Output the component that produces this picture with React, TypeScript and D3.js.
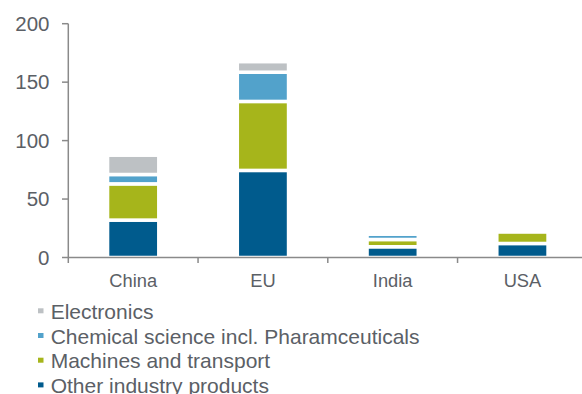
import React from "react";
import * as d3 from "d3";

const categories = ["China", "EU", "India", "USA"];
const seriesNames = [
  "Other industry products",
  "Machines and transport",
  "Chemical science incl. Pharamceuticals",
  "Electronics",
];
const otherIndustry = [32, 74.5, 9.2, 12];
const machinesTransport = [31, 59, 6.2, 10];
const chemicalScience = [8, 25, 4.5, 3];
const electronics = [16.5, 9, 0, 0];
const yTicks = [0, 50, 100, 150, 200];
const colors = ["#005b8d", "#a6b51b", "#52a2cb", "#bdc1c4"];

const W = 582;
const H = 394;
const FONT = "'Liberation Sans', Arial, sans-serif";
const TEXT = "#5b6066";
const AXIS = "#8a8a8a";

export default function App() {
  const rows = categories.map((c, i) => ({
    cat: c,
    s0: otherIndustry[i],
    s1: machinesTransport[i],
    s2: chemicalScience[i],
    s3: electronics[i],
  }));
  const keys = ["s0", "s1", "s2", "s3"];
  const stacked = d3.stack<any>().keys(keys)(rows);

  const x = d3.scaleBand().domain(categories).range([68.3, 587.3]).paddingInner(0).paddingOuter(0);
  const y = d3.scaleLinear().domain([0, 200]).range([257.5, 23.7]);
  const barW = x.bandwidth() * 0.395;

  const legendOrder = [3, 2, 1, 0];

  return (
    <div style={{ position: "fixed", left: 0, top: 0, width: W, height: H }}>
      <svg width={W} height={H} style={{ display: "block" }} fontFamily={FONT}>
        <rect width={W} height={H} fill="#fff" />
        {stacked.map((layer, li) => (
          <g key={li} fill={colors[li]}>
            {layer.map((d, i) => {
              const h = y(d[0]) - y(d[1]);
              if (h <= 0) return null;
              const cx = (x(categories[i]) as number) + x.bandwidth() / 2;
              return (
                <rect
                  key={i}
                  x={cx - barW / 2}
                  y={y(d[1])}
                  width={barW}
                  height={h}
                  stroke="#fff"
                  strokeWidth={3.5}
                />
              );
            })}
          </g>
        ))}
        {/* y axis */}
        <line x1={68.3} x2={68.3} y1={y(200)} y2={263} stroke={AXIS} strokeWidth={1.5} />
        {yTicks.map((t) => (
          <g key={t}>
            <line x1={62} x2={68.3} y1={y(t)} y2={y(t)} stroke={AXIS} strokeWidth={1.5} />
            <text x={49.5} y={y(t) + 7.3} textAnchor="end" fontSize={20.5} fill={TEXT}>
              {t}
            </text>
          </g>
        ))}
        {/* x axis */}
        <line x1={68.3} x2={W} y1={257.5} y2={257.5} stroke={AXIS} strokeWidth={1.5} />
        {categories.slice(1).map((c) => (
          <line key={c} x1={x(c)} x2={x(c)} y1={257.5} y2={263} stroke={AXIS} strokeWidth={1.5} />
        ))}
        {categories.map((c) => (
          <text
            key={c}
            x={(x(c) as number) + x.bandwidth() / 2}
            y={287}
            textAnchor="middle"
            fontSize={18.3}
            fill={TEXT}
          >
            {c}
          </text>
        ))}
        {/* legend */}
        {legendOrder.map((si, k) => (
          <g key={si} transform={`translate(0, ${319 + k * 24.7})`}>
            <rect x={38} y={-10.7} width={5.5} height={5} fill={colors[si]} />
            <text x={50.7} y={0} fontSize={21} fill={TEXT}>
              {seriesNames[si]}
            </text>
          </g>
        ))}
      </svg>
    </div>
  );
}
